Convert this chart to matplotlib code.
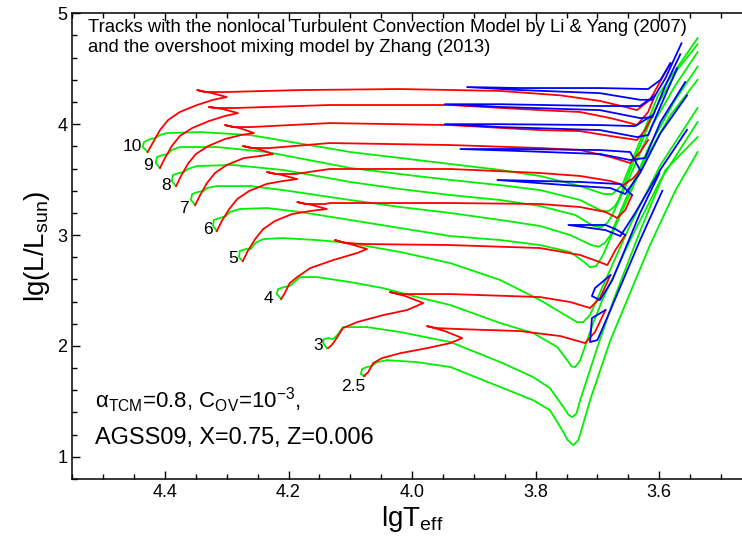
import matplotlib
matplotlib.use("Agg")
import matplotlib.pyplot as plt
from matplotlib.ticker import MultipleLocator, FormatStrFormatter

plt.rcParams['font.family'] = ['Liberation Sans', 'DejaVu Sans']
plt.rcParams['mathtext.fontset'] = 'custom'
plt.rcParams['mathtext.rm'] = 'Liberation Sans'
plt.rcParams['mathtext.it'] = 'Liberation Sans:italic'

# ------------------------------------------------------------
# tracks: (lgTeff, lgL)
# ------------------------------------------------------------

# green tracks
green_25 = [(4.076, 1.728), (4.083, 1.746), (4.081, 1.792), (4.073, 1.81), (4.065, 1.818),
            (4.057, 1.854), (4.040, 1.872), (3.992, 1.854), (3.938, 1.81), (3.857, 1.629),
            (3.804, 1.511), (3.777, 1.421), (3.760, 1.268), (3.748, 1.15), (3.739, 1.105),
            (3.731, 1.15), (3.725, 1.26), (3.712, 1.511), (3.679, 2.053), (3.652, 2.414),
            (3.615, 2.91), (3.574, 3.40), (3.538, 3.749)]
green_3 = [(4.138, 1.98), (4.144, 2.026), (4.143, 2.062), (4.136, 2.071), (4.128, 2.062),
           (4.121, 2.098), (4.112, 2.17), (4.073, 2.17), (4.019, 2.125), (3.938, 2.035),
           (3.857, 1.854), (3.804, 1.719), (3.777, 1.62), (3.755, 1.448), (3.747, 1.38),
           (3.741, 1.358), (3.734, 1.39), (3.728, 1.511), (3.700, 1.99), (3.674, 2.414),
           (3.631, 3.036), (3.590, 3.587), (3.538, 3.884)]
green_4 = [(4.212, 2.423), (4.219, 2.468), (4.217, 2.513), (4.207, 2.531), (4.198, 2.54),
           (4.189, 2.585), (4.181, 2.621), (4.154, 2.621), (4.100, 2.576), (4.047, 2.522),
           (3.992, 2.441), (3.938, 2.369), (3.857, 2.206), (3.804, 2.116), (3.765, 1.99),
           (3.749, 1.872), (3.742, 1.815), (3.736, 1.81), (3.728, 1.87), (3.707, 2.206),
           (3.692, 2.414), (3.647, 2.955), (3.598, 3.497), (3.538, 4.02)]
green_5 = [(4.274, 2.765), (4.280, 2.80), (4.279, 2.856), (4.269, 2.874), (4.261, 2.874),
           (4.254, 2.928), (4.241, 2.964), (4.209, 2.973), (4.154, 2.955), (4.100, 2.928),
           (4.019, 2.847), (3.938, 2.747), (3.857, 2.594), (3.793, 2.414), (3.752, 2.278),
           (3.733, 2.215), (3.723, 2.215), (3.712, 2.28), (3.687, 2.594), (3.647, 3.091),
           (3.598, 3.632), (3.538, 4.146)]
green_6 = [(4.316, 3.036), (4.322, 3.082), (4.321, 3.136), (4.311, 3.154), (4.301, 3.172),
           (4.295, 3.208), (4.279, 3.235), (4.235, 3.244), (4.181, 3.208), (4.100, 3.136),
           (4.019, 3.063), (3.938, 2.991), (3.857, 2.955), (3.793, 2.91), (3.744, 2.847),
           (3.722, 2.76), (3.712, 2.71), (3.702, 2.72), (3.691, 2.82), (3.663, 3.181),
           (3.623, 3.677), (3.582, 4.08), (3.538, 4.40)]
green_7 = [(4.351, 3.27), (4.358, 3.316), (4.356, 3.37), (4.347, 3.388), (4.338, 3.397),
           (4.332, 3.424), (4.316, 3.442), (4.262, 3.442), (4.209, 3.406), (4.100, 3.316),
           (4.019, 3.253), (3.938, 3.199), (3.857, 3.136), (3.793, 3.082), (3.744, 3.0),
           (3.710, 2.91), (3.698, 2.895), (3.688, 2.93), (3.679, 3.0), (3.655, 3.316),
           (3.615, 3.812), (3.574, 4.22), (3.538, 4.52)]
green_8 = [(4.382, 3.442), (4.389, 3.488), (4.387, 3.542), (4.377, 3.56), (4.369, 3.569),
           (4.363, 3.596), (4.348, 3.623), (4.290, 3.632), (4.209, 3.587), (4.100, 3.479),
           (4.019, 3.415), (3.938, 3.361), (3.857, 3.316), (3.793, 3.262), (3.736, 3.181),
           (3.706, 3.08), (3.694, 3.07), (3.684, 3.11), (3.676, 3.181), (3.650, 3.497),
           (3.611, 3.992), (3.574, 4.35), (3.538, 4.65)]
green_9 = [(4.408, 3.605), (4.415, 3.65), (4.413, 3.704), (4.403, 3.722), (4.395, 3.731),
           (4.389, 3.767), (4.376, 3.794), (4.316, 3.794), (4.235, 3.749), (4.100, 3.605),
           (4.019, 3.55), (3.938, 3.497), (3.857, 3.45), (3.793, 3.406), (3.728, 3.316),
           (3.694, 3.22), (3.682, 3.215), (3.672, 3.26), (3.666, 3.316), (3.644, 3.632),
           (3.607, 4.13), (3.571, 4.49), (3.538, 4.72)]
green_10 = [(4.428, 3.749), (4.436, 3.794), (4.434, 3.839), (4.424, 3.866), (4.416, 3.875),
            (4.408, 3.902), (4.397, 3.92), (4.343, 3.929), (4.262, 3.902), (4.100, 3.749),
            (4.019, 3.695), (3.938, 3.641), (3.857, 3.587), (3.793, 3.533), (3.728, 3.442),
            (3.690, 3.37), (3.676, 3.37), (3.660, 3.45), (3.637, 3.767), (3.602, 4.26),
            (3.538, 4.776)]

# red tracks
red_25 = [(4.078, 1.728), (4.071, 1.764), (4.063, 1.845), (4.049, 1.89), (4.019, 1.935),
          (3.976, 1.98), (3.938, 2.026), (3.919, 2.071), (3.947, 2.134), (3.976, 2.179),
          (3.960, 2.161), (3.922, 2.152), (3.825, 2.134), (3.760, 2.089), (3.720, 2.026),
          (3.704, 2.125), (3.687, 2.324)]
red_3 = [(4.136, 1.98), (4.130, 2.008), (4.121, 2.08), (4.112, 2.161), (4.089, 2.215),
         (4.047, 2.278), (4.008, 2.324), (3.982, 2.387), (4.011, 2.45), (4.036, 2.486),
         (4.019, 2.468), (3.987, 2.468), (3.938, 2.468), (3.793, 2.441), (3.744, 2.396),
         (3.712, 2.342), (3.696, 2.432), (3.679, 2.639)]
red_4 = [(4.212, 2.423), (4.206, 2.477), (4.198, 2.567), (4.186, 2.621), (4.165, 2.702),
         (4.128, 2.774), (4.089, 2.838), (4.073, 2.874), (4.100, 2.919), (4.125, 2.955),
         (4.109, 2.928), (4.076, 2.919), (3.938, 2.91), (3.793, 2.883), (3.728, 2.82),
         (3.696, 2.756), (3.684, 2.729), (3.671, 2.865), (3.655, 3.0)]
red_5 = [(4.274, 2.765), (4.266, 2.856), (4.254, 2.964), (4.241, 3.054), (4.222, 3.127),
         (4.194, 3.19), (4.165, 3.217), (4.138, 3.235), (4.162, 3.271), (4.186, 3.298),
         (4.173, 3.28), (4.141, 3.28), (4.133, 3.289), (3.938, 3.289), (3.793, 3.28),
         (3.728, 3.253), (3.687, 3.208), (3.668, 3.154), (3.655, 3.226), (3.644, 3.361)]
red_6 = [(4.316, 3.036), (4.308, 3.127), (4.296, 3.235), (4.283, 3.325), (4.264, 3.397),
         (4.236, 3.46), (4.209, 3.488), (4.186, 3.505), (4.211, 3.542), (4.235, 3.569),
         (4.222, 3.551), (4.189, 3.551), (4.133, 3.596), (3.938, 3.596), (3.793, 3.56),
         (3.728, 3.533), (3.679, 3.488), (3.658, 3.451), (3.642, 3.514), (3.631, 3.587)]
red_7 = [(4.351, 3.27), (4.343, 3.361), (4.332, 3.469), (4.319, 3.56), (4.300, 3.632),
         (4.272, 3.695), (4.246, 3.713), (4.225, 3.731), (4.249, 3.776), (4.274, 3.803),
         (4.261, 3.785), (4.230, 3.785), (4.133, 3.83), (3.938, 3.812), (3.793, 3.785),
         (3.728, 3.767), (3.679, 3.704), (3.647, 3.65), (3.631, 3.749), (3.618, 3.857)]
red_8 = [(4.382, 3.442), (4.374, 3.533), (4.363, 3.641), (4.350, 3.731), (4.330, 3.803),
         (4.303, 3.866), (4.277, 3.902), (4.256, 3.92), (4.279, 3.965), (4.303, 3.992),
         (4.290, 3.974), (4.262, 3.974), (4.133, 4.01), (3.938, 3.992), (3.793, 3.947),
         (3.728, 3.938), (3.679, 3.893), (3.636, 3.857), (3.623, 3.947), (3.611, 4.08)]
red_9 = [(4.408, 3.605), (4.400, 3.695), (4.389, 3.803), (4.376, 3.893), (4.356, 3.965),
         (4.329, 4.028), (4.303, 4.074), (4.282, 4.10), (4.306, 4.136), (4.329, 4.155),
         (4.316, 4.146), (4.287, 4.146), (4.133, 4.173), (3.938, 4.173), (3.793, 4.127),
         (3.728, 4.11), (3.679, 4.055), (3.647, 4.01), (3.636, 3.992), (3.618, 4.11),
         (3.607, 4.26)]
red_10 = [(4.428, 3.749), (4.419, 3.839), (4.408, 3.947), (4.395, 4.037), (4.376, 4.11),
          (4.348, 4.173), (4.322, 4.22), (4.300, 4.245), (4.324, 4.28), (4.348, 4.308),
          (4.335, 4.29), (4.303, 4.29), (4.181, 4.308), (4.019, 4.317), (3.857, 4.30),
          (3.760, 4.26), (3.696, 4.21), (3.655, 4.155), (3.636, 4.127), (3.615, 4.22),
          (3.582, 4.55)]

# blue tracks
blue_25 = [(3.687, 2.324), (3.709, 2.251), (3.712, 2.035), (3.700, 2.053), (3.679, 2.324),
           (3.631, 2.955), (3.595, 3.40)]
blue_3 = [(3.679, 2.639), (3.704, 2.522), (3.709, 2.45), (3.696, 2.414), (3.676, 2.594),
          (3.631, 3.199), (3.600, 3.556)]
blue_4 = [(3.655, 3.0), (3.671, 3.054), (3.687, 3.091), (3.747, 3.091), (3.687, 3.045),
          (3.663, 2.991), (3.639, 3.199), (3.597, 3.60), (3.555, 3.95)]
blue_5 = [(3.644, 3.361), (3.663, 3.46), (3.728, 3.479), (3.862, 3.497), (3.752, 3.451),
          (3.679, 3.424), (3.655, 3.37), (3.631, 3.56), (3.598, 3.92), (3.555, 4.26)]
blue_6 = [(3.631, 3.587), (3.647, 3.749), (3.696, 3.767), (3.825, 3.776), (3.922, 3.776),
          (3.825, 3.758), (3.696, 3.731), (3.647, 3.677), (3.623, 3.695), (3.598, 4.02),
          (3.558, 4.38)]
blue_7 = [(3.611, 4.08), (3.639, 3.983), (3.696, 3.992), (3.857, 4.0), (3.947, 4.0),
          (3.857, 3.974), (3.696, 3.947), (3.636, 3.884), (3.618, 3.902), (3.595, 4.20),
          (3.571, 4.505)]
blue_8 = [(3.607, 4.26), (3.631, 4.164), (3.696, 4.164), (3.857, 4.18), (3.947, 4.18),
          (3.857, 4.155), (3.696, 4.127), (3.631, 4.055), (3.611, 4.064), (3.590, 4.35),
          (3.566, 4.63)]
blue_10 = [(3.582, 4.55), (3.598, 4.40), (3.618, 4.317), (3.696, 4.326), (3.825, 4.326),
           (3.911, 4.335), (3.825, 4.308), (3.696, 4.28), (3.631, 4.22), (3.611, 4.22),
           (3.590, 4.415), (3.564, 4.73)]

green_tracks = [green_25, green_3, green_4, green_5, green_6, green_7, green_8, green_9, green_10]
red_tracks = [red_25, red_3, red_4, red_5, red_6, red_7, red_8, red_9, red_10]
blue_tracks = [blue_25, blue_3, blue_4, blue_5, blue_6, blue_7, blue_8, blue_10]

# mass labels
mass_labels = ['2.5', '3', '4', '5', '6', '7', '8', '9', '10']
label_T = [4.096, 4.152, 4.232, 4.289, 4.330, 4.370, 4.398, 4.428, 4.453]
label_L = [1.633, 2.00, 2.43, 2.79, 3.05, 3.24, 3.45, 3.63, 3.80]

# ------------------------------------------------------------
# figure
# ------------------------------------------------------------
fig = plt.figure(figsize=(7.42, 5.48), dpi=100)
ax = fig.add_axes([0.0974, 0.1259, 0.916, 0.8498])

for tr in green_tracks:
    ax.plot([p[0] for p in tr], [p[1] for p in tr], color='#00f000', lw=1.3)
for tr in red_tracks:
    ax.plot([p[0] for p in tr], [p[1] for p in tr], color='#ff0000', lw=1.3)
for tr in blue_tracks:
    ax.plot([p[0] for p in tr], [p[1] for p in tr], color='#0000ff', lw=1.3)

for lab, t, l in zip(mass_labels, label_T, label_L):
    ax.text(t, l, lab, fontsize=12.5, ha='center', va='center')

ax.set_xlim(4.55, 3.45)
ax.set_ylim(0.8, 5.0)
ax.xaxis.set_major_locator(MultipleLocator(0.2))
ax.xaxis.set_minor_locator(MultipleLocator(0.05))
ax.yaxis.set_major_locator(MultipleLocator(1))
ax.yaxis.set_minor_locator(MultipleLocator(0.2))
ax.xaxis.set_major_formatter(FormatStrFormatter('%.1f'))
ax.tick_params(which='both', direction='in', top=True, right=False, width=1.0, labelsize=13)
ax.tick_params(which='major', length=6)
ax.tick_params(which='minor', length=3.3)
for s in ax.spines.values():
    s.set_linewidth(1.1)

ax.set_xlabel(r'lgT$_{\rm eff}$', fontsize=20, labelpad=2)
ax.set_ylabel(r'lg(L/L$_{\rm sun}$)', fontsize=20, labelpad=4)

ax.text(0.023, 0.9706, 'Tracks with the nonlocal Turbulent Convection Model by Li & Yang (2007)',
        transform=ax.transAxes, fontsize=13.3, va='center')
ax.text(0.023, 0.9276, 'and the overshoot mixing model by Zhang (2013)',
        transform=ax.transAxes, fontsize=13.3, va='center')
ax.text(0.0334, 0.170, r'α$_{\rm TCM}$=0.8, C$_{\rm OV}$=10$^{-3}$,',
        transform=ax.transAxes, fontsize=16, va='center')
ax.text(0.0334, 0.090, 'AGSS09, X=0.75, Z=0.006',
        transform=ax.transAxes, fontsize=16.9, va='center')

fig.savefig('out.png', dpi=100)
